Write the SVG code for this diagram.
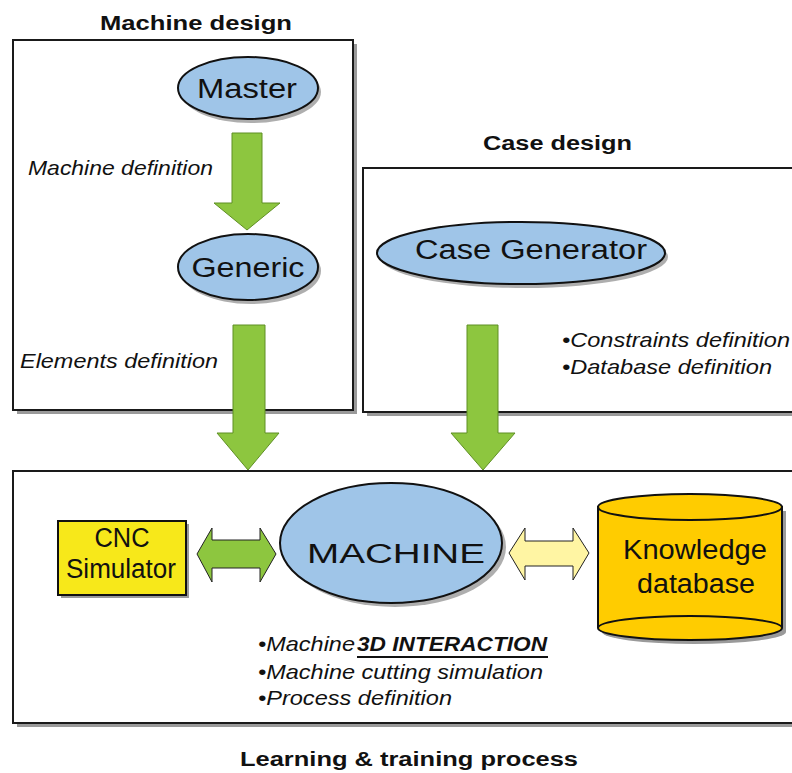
<svg xmlns="http://www.w3.org/2000/svg" width="792" height="773" viewBox="0 0 792 773">
  <defs>
    <style>
      .frame { fill: #ffffff; stroke: #1a1a1a; stroke-width: 2; }
      .shadow { fill: #9a9a9a; }
      .oval { fill: #9fc5e8; stroke: #111111; stroke-width: 2; }
      .oval-shadow { fill: #8c8c8c; opacity: 0.7; }
      .flow { fill: #8dc63f; stroke: #5f8f25; stroke-width: 1; }
      .title { font-family: "Liberation Sans", Arial, sans-serif; font-weight: bold; font-size: 20px; fill: #111111; }
      .label { font-family: "Liberation Sans", Arial, sans-serif; font-size: 27px; fill: #111111; text-anchor: middle; }
      .note { font-family: "Liberation Sans", Arial, sans-serif; font-style: italic; font-size: 21px; fill: #111111; }
    </style>
  </defs>

  <rect width="792" height="773" fill="#ffffff"/>

  <!-- Section frames -->
  <g id="machine-design">
    <rect class="shadow" x="17" y="44" width="340" height="370"/>
    <rect class="frame" x="13" y="40" width="340" height="370"/>
    <text class="title" x="100" y="30" textLength="192" lengthAdjust="spacingAndGlyphs">Machine design</text>
  </g>

  <g id="case-design">
    <rect class="shadow" x="367" y="172" width="440" height="244"/>
    <rect class="frame" x="363" y="168" width="440" height="244"/>
    <text class="title" x="483" y="150" textLength="149" lengthAdjust="spacingAndGlyphs">Case design</text>
  </g>

  <g id="learning-process">
    <rect class="shadow" x="17" y="475" width="790" height="252"/>
    <rect class="frame" x="13" y="471" width="790" height="252"/>
    <text class="title" x="240" y="766" textLength="338" lengthAdjust="spacingAndGlyphs">Learning &amp; training process</text>
  </g>

  <!-- Connectors -->
  <g id="connectors">
    <path class="flow" d="M232,133 H262 V203 H280 L247,230 L214,203 H232 Z"/>
    <path class="flow" d="M233,325 H265 V433 H279 L248,470 L217,433 H233 Z"/>
    <path class="flow" d="M467,325 H498 V433 H515 L483,470 L451,433 H467 Z"/>
    <path fill="#8dc63f" stroke="#222222" stroke-width="1" d="M197,554 L212,528 V540 H260 V528 L276,554 L260,582 V568 H212 V582 Z"/>
    <path fill="#fff5a3" stroke="#222222" stroke-width="1" d="M509,553 L525,528 V541 H573 V528 L589,553 L573,580 V566 H525 V580 Z"/>
  </g>

  <!-- Nodes -->
  <g id="master">
    <ellipse class="oval-shadow" cx="251" cy="92" rx="70" ry="31"/>
    <ellipse class="oval" cx="248" cy="88" rx="70" ry="31"/>
    <text class="label" x="247" y="98" textLength="100" lengthAdjust="spacingAndGlyphs">Master</text>
  </g>

  <g id="generic">
    <ellipse class="oval-shadow" cx="251" cy="271" rx="70" ry="33"/>
    <ellipse class="oval" cx="248" cy="267" rx="70" ry="33"/>
    <text class="label" x="248" y="277" textLength="113" lengthAdjust="spacingAndGlyphs">Generic</text>
  </g>

  <g id="case-generator">
    <ellipse class="oval-shadow" cx="524" cy="257" rx="144" ry="31"/>
    <ellipse class="oval" cx="521" cy="253" rx="144" ry="31"/>
    <text class="label" x="531" y="259" font-size="31" textLength="232" lengthAdjust="spacingAndGlyphs">Case Generator</text>
  </g>

  <g id="machine">
    <ellipse class="oval-shadow" cx="395" cy="547" rx="111" ry="60"/>
    <ellipse class="oval" cx="391" cy="543" rx="111" ry="60"/>
    <text class="label" x="396" y="563" font-size="48" textLength="178" lengthAdjust="spacingAndGlyphs">MACHINE</text>
  </g>

  <g id="cnc-simulator">
    <rect class="shadow" x="61" y="524" width="128" height="74"/>
    <rect x="58" y="521" width="128" height="74" fill="#f7e81a" stroke="#111111" stroke-width="2"/>
    <text class="label" x="122" y="547" font-size="24" textLength="55" lengthAdjust="spacingAndGlyphs">CNC</text>
    <text class="label" x="121" y="578" font-size="24" textLength="110" lengthAdjust="spacingAndGlyphs">Simulator</text>
  </g>

  <g id="knowledge-database">
    <path class="shadow" d="M602,511 V632 A92,12 0 0 0 786,632 V511 Z"/>
    <path d="M598,507 V628 A92,12 0 0 0 782,628 V507 Z" fill="#ffcc00" stroke="#111111" stroke-width="2"/>
    <path d="M598,628 A92,12 0 0 1 782,628" fill="none" stroke="#111111" stroke-width="2"/>
    <ellipse cx="690" cy="507" rx="92" ry="13" fill="#ffcc00" stroke="#111111" stroke-width="2"/>
    <text class="label" x="695" y="559" font-size="28" textLength="144" lengthAdjust="spacingAndGlyphs">Knowledge</text>
    <text class="label" x="696" y="593" font-size="28" textLength="118" lengthAdjust="spacingAndGlyphs">database</text>
  </g>

  <!-- Annotations -->
  <g id="annotations">
    <text class="note" x="28" y="175" textLength="185" lengthAdjust="spacingAndGlyphs">Machine definition</text>
    <text class="note" x="20" y="368" textLength="198" lengthAdjust="spacingAndGlyphs">Elements definition</text>
    <text class="note" x="562" y="347" textLength="228" lengthAdjust="spacingAndGlyphs">•Constraints definition</text>
    <text class="note" x="562" y="374" textLength="210" lengthAdjust="spacingAndGlyphs">•Database definition</text>
    <text class="note" x="258" y="651" font-size="23"><tspan textLength="97" lengthAdjust="spacingAndGlyphs">•Machine</tspan><tspan x="357" font-weight="bold" textLength="190" lengthAdjust="spacingAndGlyphs">3D INTERACTION</tspan></text>
    <line x1="357" y1="657" x2="548" y2="657" stroke="#111111" stroke-width="2"/>
    <text class="note" x="258" y="679" font-size="23" textLength="285" lengthAdjust="spacingAndGlyphs">•Machine cutting simulation</text>
    <text class="note" x="258" y="705" font-size="23" textLength="194" lengthAdjust="spacingAndGlyphs">•Process definition</text>
  </g>
</svg>
